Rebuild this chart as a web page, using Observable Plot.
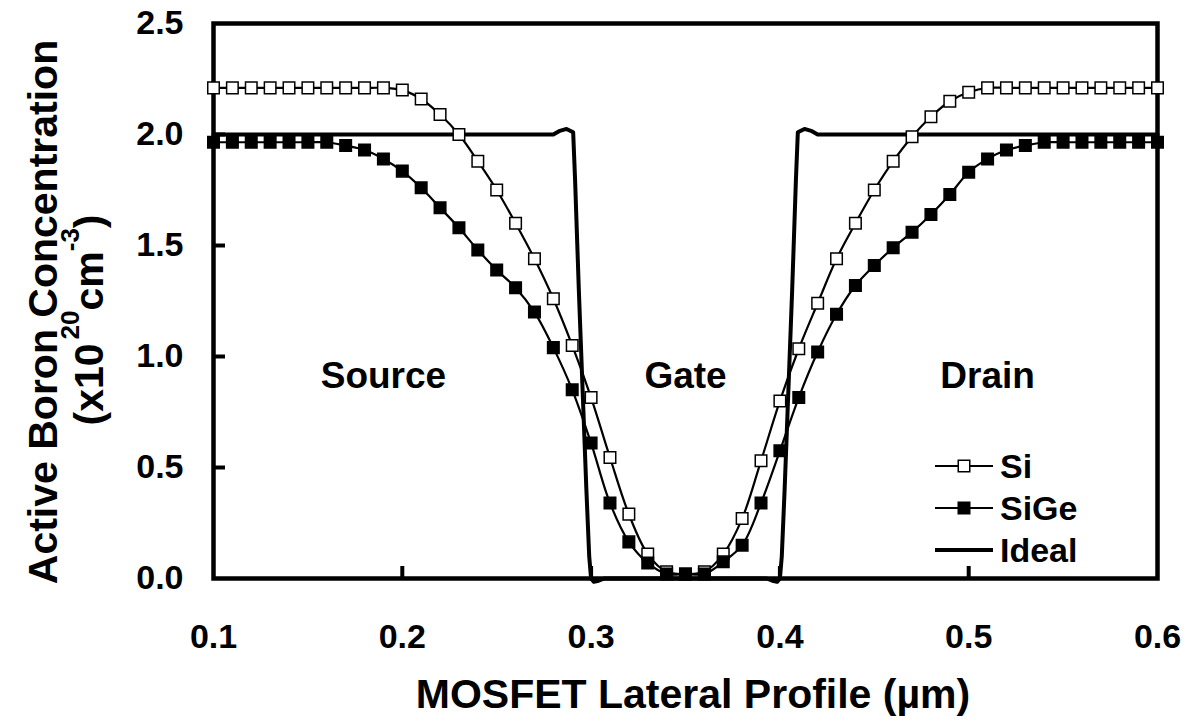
<!DOCTYPE html>
<html>
<head>
<meta charset="utf-8">
<script src="https://cdn.jsdelivr.net/npm/d3@7"></script>
<script src="https://cdn.jsdelivr.net/npm/@observablehq/plot@0.6"></script>
<style>
  html, body { margin: 0; padding: 0; background: #fff; }
  #chart { width: 1192px; height: 722px; }
  svg text { font-family: "Liberation Sans", Arial, sans-serif; font-weight: bold; }
</style>
</head>
<body>
<div id="chart"></div>
<script>
// ---- data ----
const positions = [0.10,0.11,0.12,0.13,0.14,0.15,0.16,0.17,0.18,0.19,
  0.20,0.21,0.22,0.23,0.24,0.25,0.26,0.27,0.28,0.29,
  0.30,0.31,0.32,0.33,0.34,0.35,0.36,0.37,0.38,0.39,
  0.40,0.41,0.42,0.43,0.44,0.45,0.46,0.47,0.48,0.49,
  0.50,0.51,0.52,0.53,0.54,0.55,0.56,0.57,0.58,0.59,0.60];
const siValues = [2.21,2.21,2.21,2.21,2.21,2.21,2.21,2.21,2.21,2.21,
  2.20,2.16,2.09,2.00,1.88,1.75,1.60,1.44,1.26,1.05,
  0.815,0.545,0.29,0.11,0.03,0.02,0.03,0.11,0.27,0.53,
  0.80,1.035,1.24,1.44,1.60,1.75,1.88,1.99,2.08,2.15,
  2.19,2.21,2.21,2.21,2.21,2.21,2.21,2.21,2.21,2.21,2.21];
const sigeValues = [1.965,1.965,1.965,1.965,1.965,1.965,1.965,1.95,1.93,1.89,
  1.835,1.76,1.67,1.58,1.48,1.39,1.31,1.20,1.04,0.85,
  0.61,0.34,0.165,0.07,0.02,0.02,0.02,0.075,0.15,0.34,
  0.575,0.815,1.02,1.19,1.32,1.41,1.49,1.56,1.64,1.73,
  1.83,1.89,1.93,1.95,1.965,1.965,1.965,1.965,1.965,1.965,1.965];
const idealX = [0.100,0.280,0.283,0.287,0.2905,0.2915,0.2935,0.2955,0.2975,0.2990,0.3000,0.3015,0.3040,0.3070,
  0.3930,0.3960,0.3985,0.4000,0.4010,0.4025,0.4045,0.4065,0.4085,0.4095,0.413,0.417,0.420,0.600];
const idealY = [2.00,2.00,2.015,2.025,2.01,1.80,1.30,0.85,0.40,0.10,0.00,-0.015,-0.01,0.00,
  0.00,-0.01,-0.015,0.00,0.10,0.40,0.85,1.30,1.80,2.01,2.025,2.015,2.00,2.00];
const xTicks = [0.1,0.2,0.3,0.4,0.5,0.6];
const yTicks = [0.0,0.5,1.0,1.5,2.0,2.5];
const regionLabels = ["Source","Gate","Drain"];
const regionX = [0.19,0.35,0.51];
const regionY = [0.91,0.91,0.91];
const seriesNames = ["Si","SiGe","Ideal"];

const si = positions.map((x,i)=>({x, y: siValues[i]}));
const sige = positions.map((x,i)=>({x, y: sigeValues[i]}));
const ideal = idealX.map((x,i)=>({x, y: idealY[i]}));
const regions = regionLabels.map((t,i)=>({t, x: regionX[i], y: regionY[i]}));

const W = 1192, H = 722;
const mL = 213, mR = 35, mT = 23, mB = 144;
const FONT = "Liberation Sans, Arial, sans-serif";

const chart = Plot.plot({
  width: W, height: H,
  marginLeft: mL, marginRight: mR, marginTop: mT, marginBottom: mB,
  style: {fontFamily: FONT, fontWeight: "bold", background: "#fff", color: "#000"},
  x: {domain: [0.1, 0.6]},
  y: {domain: [0, 2.5]},
  marks: [
    Plot.frame({stroke: "#000", strokeWidth: 4.5}),
    Plot.axisX(xTicks.slice(1, -1), {tickSize: -12, tickFormat: () => "", strokeWidth: 4, stroke: "#000", label: null}),
    Plot.axisY(yTicks.slice(1, -1), {tickSize: -12, tickFormat: () => "", strokeWidth: 4, stroke: "#000", label: null}),
    Plot.axisX(xTicks, {tickSize: 0, tickPadding: 45, tickFormat: d3.format(".1f"), fontSize: 34, fontWeight: "bold", label: null}),
    Plot.axisY(yTicks, {tickSize: 0, tickPadding: 30, tickFormat: d3.format(".1f"), fontSize: 34, fontWeight: "bold", label: null}),
    Plot.line(ideal, {x: "x", y: "y", stroke: "#000", strokeWidth: 4, strokeLinejoin: "round", strokeLinecap: "round"}),
    Plot.line(si, {x: "x", y: "y", stroke: "#000", strokeWidth: 2.2, curve: "catmull-rom"}),
    Plot.dot(si, {x: "x", y: "y", symbol: "square", r: 6.5, fill: "#fff", stroke: "#000", strokeWidth: 1.5}),
    Plot.line(sige, {x: "x", y: "y", stroke: "#000", strokeWidth: 2.2, curve: "catmull-rom"}),
    Plot.dot(sige, {x: "x", y: "y", symbol: "square", r: 6.5, fill: "#000", stroke: "#000", strokeWidth: 1.5}),
    Plot.text(regions, {x: "x", y: "y", text: "t", fontSize: 37, fontWeight: "bold", fill: "#000"})
  ]
});

const svg = d3.select(chart);
// x title
svg.append("text")
  .attr("x", 693).attr("y", 708)
  .attr("text-anchor", "middle")
  .attr("font-size", 41).attr("font-weight", "bold").attr("font-family", FONT)
  .attr("fill", "#000")
  .text("MOSFET Lateral Profile (\u00b5m)");
// y title line 1
svg.append("text")
  .attr("transform", "translate(57,312) rotate(-90)")
  .attr("text-anchor", "middle")
  .attr("font-size", 41).attr("font-weight", "bold").attr("font-family", FONT)
  .attr("fill", "#000")
  .text("Active Boron Concentration");
// y title line 2 with superscripts
const t2 = svg.append("text")
  .attr("transform", "translate(103,320) rotate(-90)")
  .attr("text-anchor", "middle")
  .attr("font-size", 41).attr("font-weight", "bold").attr("font-family", FONT)
  .attr("fill", "#000");
t2.append("tspan").text("(x10");
t2.append("tspan").attr("font-size", 26).attr("dy", -24).attr("dx", 4).text("20");
t2.append("tspan").attr("dy", 24).text("cm");
t2.append("tspan").attr("font-size", 26).attr("dy", -24).text("-3");
t2.append("tspan").attr("dy", 24).text(")");

// legend
const legRows = [466, 508, 550];
const lg = svg.append("g").attr("text-anchor", "start");
seriesNames.forEach((name, i) => {
  const yy = legRows[i];
  lg.append("line").attr("x1", 935).attr("x2", 993).attr("y1", yy).attr("y2", yy)
    .attr("stroke", "#000").attr("stroke-width", name === "Ideal" ? 4 : 2.2);
  if (name !== "Ideal") {
    lg.append("rect").attr("x", 964 - 5.75).attr("y", yy - 5.75).attr("width", 11.5).attr("height", 11.5)
      .attr("fill", name === "Si" ? "#fff" : "#000").attr("stroke", "#000").attr("stroke-width", 1.5);
  }
  lg.append("text").attr("x", 1000).attr("y", yy).attr("dy", "0.36em")
    .attr("text-anchor", "start")
    .attr("font-size", 34).attr("font-weight", "bold").attr("font-family", FONT)
    .attr("fill", "#000").text(name);
});

document.getElementById("chart").appendChild(chart);
</script>
</body>
</html>
